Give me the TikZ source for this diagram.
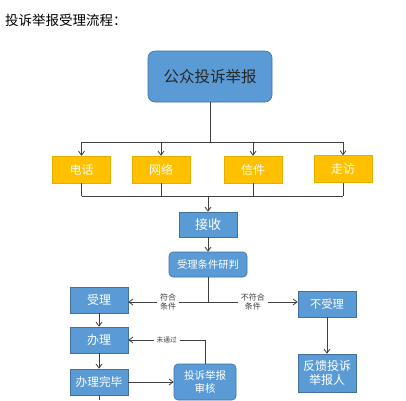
\documentclass[tikz,border=0pt]{standalone}
\usepackage{fontspec}
\setmainfont{Noto Sans CJK SC}
\usetikzlibrary{positioning,arrows.meta,calc}
\definecolor{boxblue}{HTML}{5B9BD5}
\definecolor{boxedge}{HTML}{41719C}
\definecolor{boxgold}{HTML}{FFC000}
\definecolor{linegray}{HTML}{404040}

\begin{document}
\begin{tikzpicture}[
  x=1pt, y=-1pt,
  >={Straight Barb[length=4pt,width=6pt]},
  bluebox/.style={draw=boxedge, line width=0.6pt, fill=boxblue, text=white, align=center,
                  inner sep=1pt, minimum width=58pt, minimum height=26pt, font=\fontsize{11.5}{13}\selectfont},
  roundbox/.style={bluebox, rounded corners=4pt},
  goldbox/.style={fill=boxgold, draw=boxgold!90!black, line width=0.4pt, text=white, align=center,
                  inner sep=1pt, minimum width=58pt, minimum height=27pt, font=\fontsize{12}{14}\selectfont},
  link/.style={draw=linegray, line width=0.8pt},
  lbl/.style={fill=white, text=linegray, align=center, inner sep=3pt, font=\fontsize{8}{9}\selectfont},
]
\clip (0,0) rectangle (406,400);
\fill[white] (0,0) rectangle (406,400);

% ---- title ----
\node[anchor=west, font=\fontsize{13.5}{15}\selectfont, inner sep=0pt] (title) at (5,20) {投诉举报受理流程：};

% ---- source ----
\node[roundbox, rounded corners=7pt, minimum width=124pt, minimum height=51pt, text=black!85,
      font=\fontsize{15.5}{17}\selectfont] (pub) at (210,76.5) {公众投诉举报};

% ---- channels ----
\node[goldbox] (tel)   at (81.5,169.5) {电话};
\node[goldbox] (net)   at (161,169.5)  {网络};
\node[goldbox] (mail)  at (253,169.5)  {信件};
\node[goldbox] (visit) at (343,169)    {走访};

\coordinate (top) at (210,142);
\coordinate (bot) at (208,196);

\draw[link] (pub) -- (top);
\draw[link] (tel |- top) -- (visit |- top);
\foreach \c in {tel,net,mail,visit}{
  \draw[link,->] (\c |- top) -- (\c.north);
  \draw[link] (\c.south) -- (\c |- bot);
}
\draw[link] (tel |- bot) -- (visit |- bot);

% ---- intake ----
\node[bluebox, minimum height=25pt, font=\fontsize{13}{15}\selectfont] (recv) at (208,224.5) {接收};
\node[roundbox, minimum width=78pt, minimum height=25pt, font=\fontsize{10.3}{12}\selectfont] (judge) at (208,264.5) {受理条件研判};

\draw[link,->] (bot) -- (recv);
\draw[link,->] (recv) -- (judge);

% ---- accepted branch ----
\node[bluebox, font=\fontsize{12}{14}\selectfont] (acc) at (99,300) {受理};
\node[bluebox, font=\fontsize{12}{14}\selectfont] (do) at (99,340) {办理};
\node[bluebox, font=\fontsize{11.7}{14}\selectfont] (done) at (99,382) {办理完毕};
\node[roundbox, minimum width=62pt, minimum height=36pt, font=\fontsize{10.5}{13}\selectfont] (audit) at (205,382) {投诉举报\\审核};

% ---- rejected branch ----
\node[bluebox, font=\fontsize{11.3}{13}\selectfont] (rej) at (327,304) {不受理};
\node[bluebox, minimum height=38pt, font=\fontsize{12}{14.5}\selectfont] (fb) at (327,373) {反馈投诉\\举报人};

\coordinate (split) at (208,302);
\coordinate (cut) at (99,400);

\draw[link] (judge) -- (split);
\draw[link,->] (split) -- node[lbl]{符合\\条件} (split -| acc.east);
\draw[link,->] (split) -- node[lbl]{不符合\\条件} (split -| rej.west);
\draw[link,->] (acc) -- (do);
\draw[link,->] (do) -- (done);
\draw[link,->] (done.east) -- (done.east -| audit.west);
\draw[link,->] (audit.north) |- node[lbl, pos=0.75, font=\fontsize{6.7}{8}\selectfont]{未通过} (do.east);
\draw[link] (done) -- (cut);
\draw[link,->] (rej) -- (fb);
\end{tikzpicture}
\end{document}
